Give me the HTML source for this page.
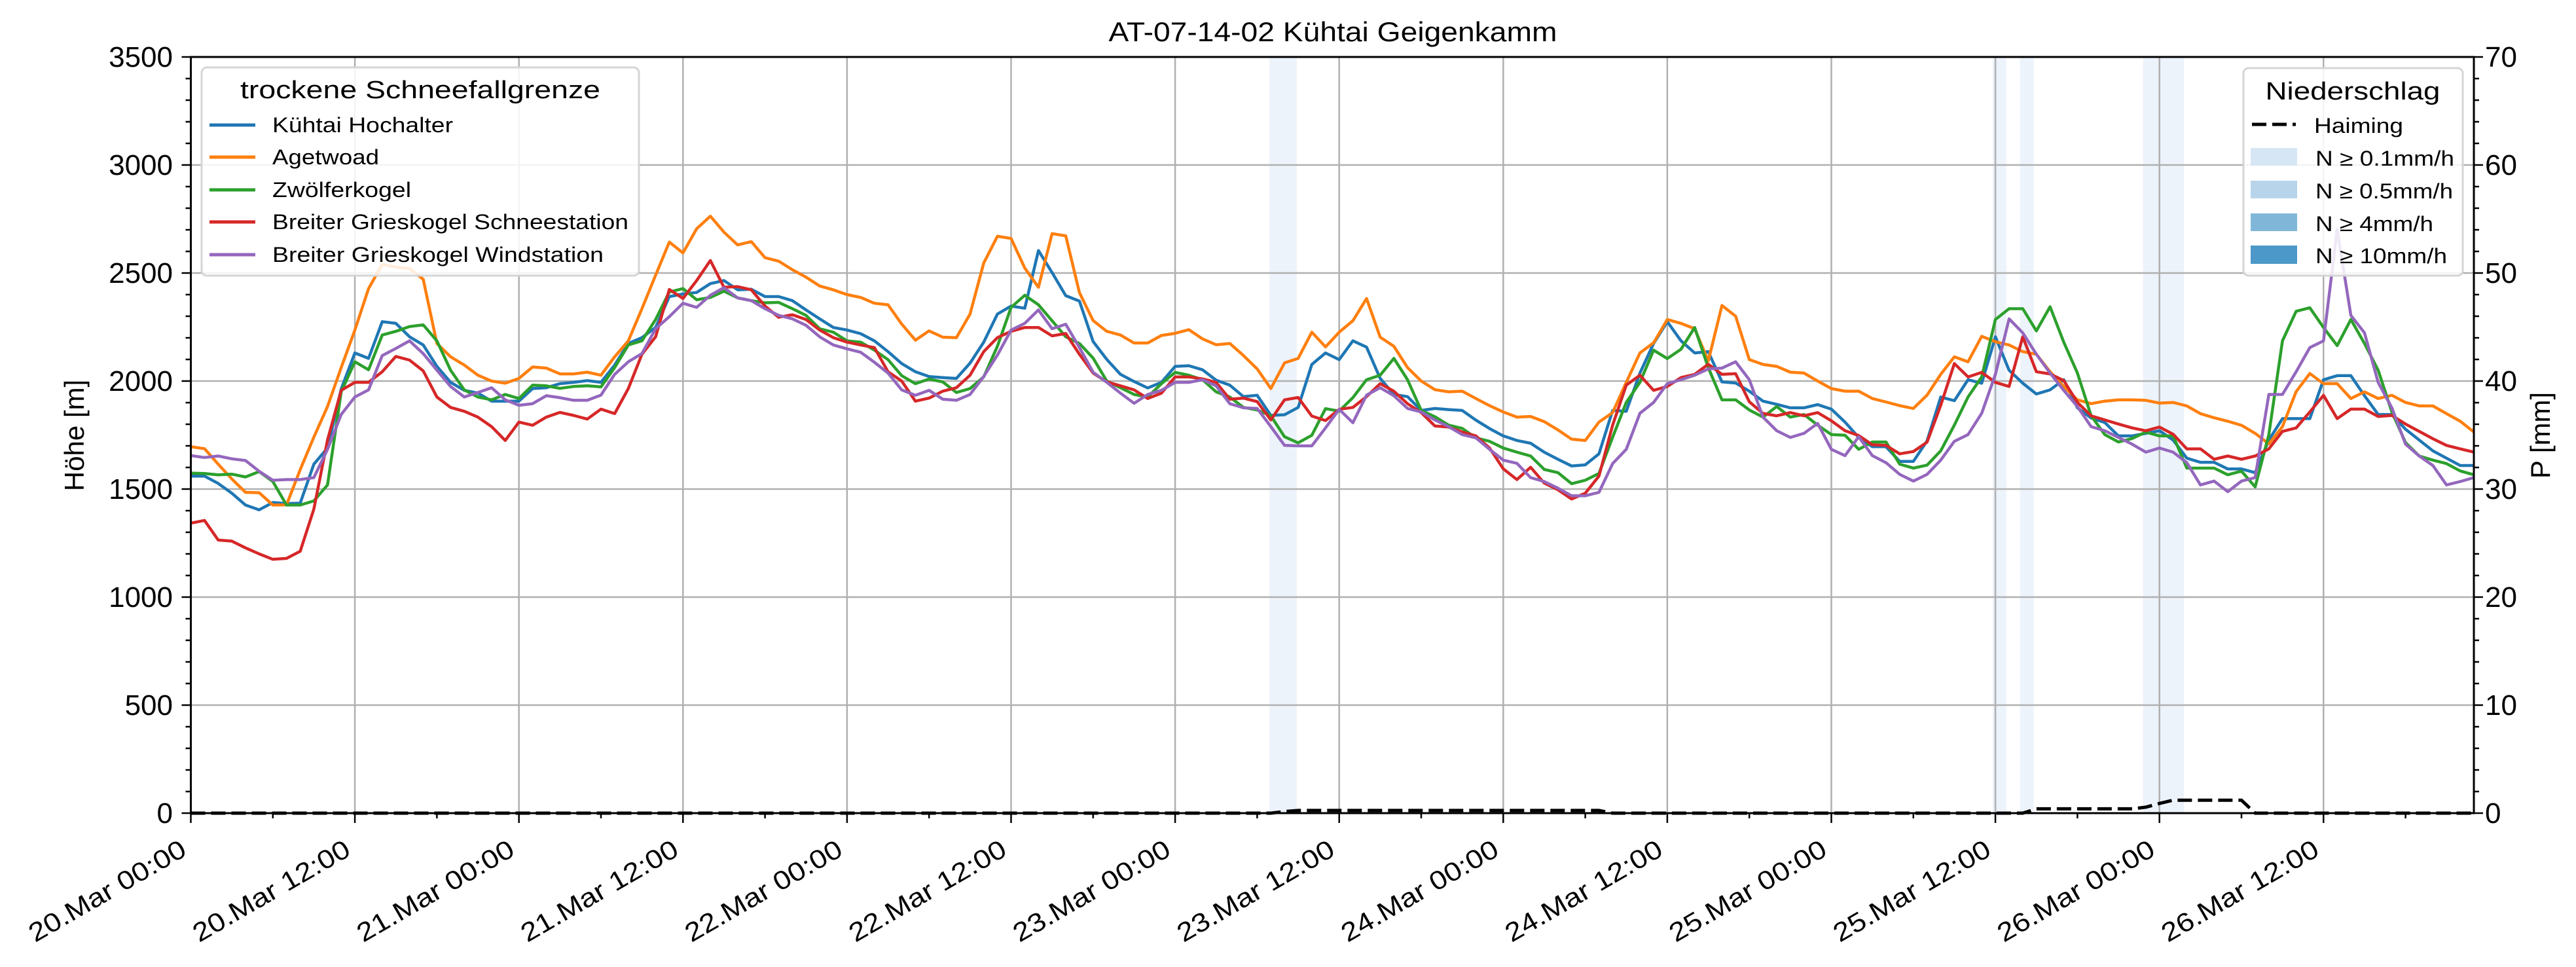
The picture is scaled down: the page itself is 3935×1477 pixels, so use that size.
<!DOCTYPE html>
<html><head><meta charset="utf-8"><style>
html,body{margin:0;padding:0;background:#fff;}
svg{display:block;font-family:"Liberation Sans","DejaVu Sans",sans-serif;}
</style></head><body>
<svg id="chart" width="3935" height="1477" viewBox="0 0 3935 1477" xmlns="http://www.w3.org/2000/svg">
<rect width="3935" height="1477" fill="#fff"/>
<g id="bands"></g>
<g id="grid"></g>
<g id="series"></g>
<g id="axes"></g>
<text x="2036" y="63" font-size="42" text-anchor="middle" textLength="685" lengthAdjust="spacingAndGlyphs">AT-07-14-02 Kühtai Geigenkamm</text>
<text transform="translate(128,665) rotate(-90)" font-size="42" text-anchor="middle">Höhe [m]</text>
<text transform="translate(3895,665) rotate(-90)" font-size="42" text-anchor="middle">P [mm]</text>
<g>
<rect x="308" y="103" width="668" height="318" rx="8" fill="#fff" fill-opacity="0.85" stroke="#d5d5d5" stroke-width="3"/>
<text x="642" y="150" font-size="38" text-anchor="middle" textLength="550" lengthAdjust="spacingAndGlyphs">trockene Schneefallgrenze</text>
<g><line x1="320" y1="191" x2="390" y2="191" stroke="#1f77b4" stroke-width="5"/><text x="416" y="202" font-size="32" textLength="276" lengthAdjust="spacingAndGlyphs">Kühtai Hochalter</text></g>
<g><line x1="320" y1="240" x2="390" y2="240" stroke="#ff7f0e" stroke-width="5"/><text x="416" y="251" font-size="32" textLength="163" lengthAdjust="spacingAndGlyphs">Agetwoad</text></g>
<g><line x1="320" y1="290" x2="390" y2="290" stroke="#2ca02c" stroke-width="5"/><text x="416" y="301" font-size="32" textLength="212" lengthAdjust="spacingAndGlyphs">Zwölferkogel</text></g>
<g><line x1="320" y1="339" x2="390" y2="339" stroke="#d62728" stroke-width="5"/><text x="416" y="350" font-size="32" textLength="544" lengthAdjust="spacingAndGlyphs">Breiter Grieskogel Schneestation</text></g>
<g><line x1="320" y1="389" x2="390" y2="389" stroke="#9467bd" stroke-width="5"/><text x="416" y="400" font-size="32" textLength="506" lengthAdjust="spacingAndGlyphs">Breiter Grieskogel Windstation</text></g>
</g>
<g>
<rect x="3427" y="104" width="335" height="317" rx="8" fill="#fff" fill-opacity="0.85" stroke="#d5d5d5" stroke-width="3"/>
<text x="3594" y="152" font-size="38" text-anchor="middle" textLength="267" lengthAdjust="spacingAndGlyphs">Niederschlag</text>
<g><line x1="3440" y1="190" x2="3507" y2="190" stroke="#000" stroke-width="5" stroke-dasharray="22,9"/><text x="3535" y="203" font-size="32" textLength="136" lengthAdjust="spacingAndGlyphs">Haiming</text></g>
<g><rect x="3438" y="226" width="71" height="27" fill="#d6e6f4"/><text x="3537" y="253" font-size="32" textLength="212" lengthAdjust="spacingAndGlyphs">N ≥ 0.1mm/h</text></g>
<g><rect x="3438" y="276" width="71" height="27" fill="#b8d4ea"/><text x="3537" y="303" font-size="32" textLength="210" lengthAdjust="spacingAndGlyphs">N ≥ 0.5mm/h</text></g>
<g><rect x="3438" y="326" width="71" height="27" fill="#80b7d8"/><text x="3537" y="353" font-size="32" textLength="180" lengthAdjust="spacingAndGlyphs">N ≥ 4mm/h</text></g>
<g><rect x="3438" y="375" width="71" height="28" fill="#4b98c9"/><text x="3537" y="402" font-size="32" textLength="201" lengthAdjust="spacingAndGlyphs">N ≥ 10mm/h</text></g>
</g>
</svg>
<script>
const hochalter=[1560,1560,1526,1481,1426,1404,1438,1433,1435,1615,1690,1963,2130,2105,2275,2267,2205,2167,2068,1994,1957,1944,1907,1907,1907,
1965,1969,1988,1994,2002,1994,2074,2174,2201,2248,2391,2403,2410,2451,2465,2422,2425,2391,2391,2372,2329,2288,2248,2236,
2219,2186,2136,2081,2043,2021,2016,2012,2083,2180,2310,2347,2337,2604,2502,2395,2370,2183,2100,2031,1998,1968,1994,2068,
2071,2052,2004,1981,1928,1934,1841,1844,1878,2077,2130,2099,2186,2157,2012,1938,1928,1864,1873,1868,1864,1819,1780,1746,
1725,1712,1671,1638,1607,1612,1663,1864,1860,2037,2174,2275,2186,2130,2136,1996,1991,1953,1907,1892,1876,1876,1891,1870,
1810,1739,1696,1696,1628,1628,1723,1926,1909,2006,1990,2205,2050,1990,1940,1959,2006,1876,1829,1808,1746,1746,1758,1770,
1727,1643,1624,1624,1593,1593,1576,1727,1826,1826,1826,2006,2025,2025,1932,1845,1845,1777,1727,1677,1643,1609,1609];
const agetwoad=[1696,1687,1615,1547,1485,1483,1426,1427,1590,1740,1882,2062,2236,2428,2540,2527,2521,2471,2174,2112,2074,2027,2000,1990,2012,
2065,2060,2033,2033,2041,2027,2112,2186,2335,2490,2643,2593,2705,2763,2689,2630,2645,2571,2555,2515,2481,2440,2422,2400,
2387,2360,2353,2264,2189,2232,2203,2201,2310,2546,2670,2660,2523,2434,2682,2672,2409,2280,2230,2213,2176,2176,2211,2221,
2238,2195,2168,2174,2118,2056,1965,2084,2105,2226,2158,2226,2279,2382,2203,2161,2062,2000,1960,1950,1953,1919,1886,1857,
1833,1836,1812,1774,1731,1725,1810,1854,1994,2130,2177,2285,2267,2242,2093,2350,2300,2099,2077,2068,2041,2037,2000,1965,
1953,1953,1919,1903,1886,1873,1935,2031,2112,2089,2207,2182,2167,2136,2124,2043,1975,1913,1895,1907,1913,1913,1911,1898,
1901,1885,1849,1830,1814,1795,1758,1709,1789,1951,2035,1988,1988,1919,1950,1919,1934,1901,1885,1885,1849,1814,1764];
const zwoelfer=[1574,1572,1566,1569,1556,1581,1535,1426,1426,1445,1519,1950,2089,2052,2213,2230,2252,2260,2186,2050,1959,1926,1913,1938,1919,
1981,1978,1966,1975,1978,1973,2062,2167,2186,2285,2412,2428,2376,2387,2416,2385,2372,2362,2364,2335,2304,2242,2226,2186,
2180,2143,2099,2025,1988,2009,1996,1947,1965,2019,2161,2341,2397,2353,2279,2205,2174,2106,2000,1969,1938,1926,1988,2040,
2027,2006,1950,1926,1878,1866,1839,1742,1714,1749,1872,1861,1923,2006,2027,2105,2006,1864,1835,1796,1781,1737,1721,1690,
1671,1653,1591,1576,1525,1541,1572,1740,1901,1994,2143,2104,2147,2248,2062,1913,1913,1866,1833,1882,1833,1845,1796,1752,
1749,1684,1718,1718,1615,1597,1611,1677,1796,1926,2019,2285,2335,2335,2232,2344,2180,2037,1839,1752,1718,1734,1764,1746,
1746,1597,1597,1597,1566,1583,1510,1752,2186,2323,2339,2248,2164,2285,2174,2050,1857,1715,1653,1634,1618,1584,1566];
const schneestation=[1342,1355,1264,1259,1228,1200,1175,1179,1212,1407,1727,1957,1994,1994,2043,2114,2097,2047,1926,1878,1860,1833,1789,1725,1810,
1795,1833,1855,1841,1824,1870,1849,1965,2124,2205,2424,2382,2465,2558,2434,2437,2422,2347,2295,2307,2285,2236,2201,2180,
2167,2155,2043,2000,1907,1921,1953,1969,2027,2136,2201,2230,2248,2248,2209,2220,2124,2037,1996,1978,1959,1919,1944,2019,
2019,2010,1994,1916,1921,1905,1820,1913,1924,1838,1817,1869,1878,1928,1988,1953,1895,1854,1792,1787,1764,1746,1690,1594,
1544,1601,1528,1497,1454,1481,1560,1796,1981,2027,1957,1975,2016,2031,2078,2031,2034,1904,1850,1839,1854,1839,1854,1816,
1770,1748,1705,1702,1663,1674,1717,1888,2081,2019,2040,1994,1975,2205,2043,2033,2002,1901,1839,1820,1801,1783,1770,1787,
1754,1686,1686,1638,1653,1638,1653,1686,1767,1783,1857,1934,1826,1870,1870,1836,1841,1801,1767,1733,1702,1686,1671];
const windstation=[1655,1646,1653,1640,1632,1582,1541,1544,1544,1553,1684,1845,1926,1959,2118,2151,2186,2127,2050,1975,1926,1947,1969,1913,1888,
1895,1932,1923,1911,1911,1935,2031,2089,2127,2242,2298,2360,2341,2397,2432,2385,2372,2335,2304,2288,2258,2205,2167,2149,
2133,2087,2037,1959,1934,1957,1916,1911,1938,2021,2120,2236,2267,2329,2242,2263,2155,2041,1994,1944,1897,1938,1957,1994,
1994,2006,1978,1895,1876,1873,1789,1702,1700,1700,1783,1869,1807,1935,1969,1932,1873,1857,1820,1789,1752,1737,1684,1634,
1619,1553,1535,1504,1469,1469,1485,1618,1684,1851,1901,1988,2006,2027,2056,2060,2089,2006,1833,1770,1739,1758,1804,1684,
1655,1742,1655,1622,1568,1537,1568,1634,1721,1752,1851,2031,2288,2223,2124,2037,1957,1882,1789,1770,1739,1708,1671,1690,
1671,1622,1519,1537,1488,1537,1553,1938,1938,2043,2155,2186,2701,2304,2223,1994,1876,1708,1653,1609,1519,1535,1553];
const precipHours=[0,79,80,81,103,104,134,135,142,143,144,145,150,151,167];
const precipValues=[0,0,0.15,0.25,0.25,0,0,0.4,0.4,0.55,0.9,1.2,1.2,0,0];
const bandStart=[78.9,131.8,133.8,142.8];
const bandEnd=[80.9,132.8,134.8,145.8];
const xTickLabels=["20.Mar 00:00","20.Mar 12:00","21.Mar 00:00","21.Mar 12:00","22.Mar 00:00","22.Mar 12:00","23.Mar 00:00","23.Mar 12:00","24.Mar 00:00","24.Mar 12:00","25.Mar 00:00","25.Mar 12:00","26.Mar 00:00","26.Mar 12:00"];
const yTicks=[0,500,1000,1500,2000,2500,3000,3500];
const y2Ticks=[0,10,20,30,40,50,60,70];

const NS="http://www.w3.org/2000/svg";
const L=291.5,R=3779,T=87,B=1242,HMAX=167;
const x=h=>L+h*(R-L)/HMAX;
const y=v=>B-v*(B-T)/3500;
const y2=p=>B-p*(B-T)/70;
function mk(tag,attrs,parent){const e=document.createElementNS(NS,tag);for(const k in attrs)e.setAttribute(k,attrs[k]);parent.appendChild(e);return e;}
const gB=document.getElementById('bands'),gG=document.getElementById('grid'),gS=document.getElementById('series'),gA=document.getElementById('axes');

for(let i=0;i<bandStart.length;i++){
  const r=mk('rect',{x:x(bandStart[i]),y:T,width:x(bandEnd[i])-x(bandStart[i]),height:B-T,fill:'#edf3fa'},gB);
  
  
}
for(let i=0;i<xTickLabels.length;i++){
  const gl=mk('line',{x1:x(i*12),x2:x(i*12),y1:T,y2:B,stroke:'#b0b0b0','stroke-width':2.5},gG);
  
  
}
yTicks.forEach(v=>{
  const gl=mk('line',{x1:L,x2:R,y1:y(v),y2:y(v),stroke:'#b0b0b0','stroke-width':2.5},gG);
  
  
});

const series=[[hochalter,'#1f77b4','line-kuehtai-hochalter'],[agetwoad,'#ff7f0e','line-agetwoad'],[zwoelfer,'#2ca02c','line-zwoelferkogel'],[schneestation,'#d62728','line-schneestation'],[windstation,'#9467bd','line-windstation']];
series.forEach(s=>{
  const pts=s[0].map((v,i)=>x(i).toFixed(1)+','+y(v).toFixed(1)).join(' ');
  const p=mk('polyline',{points:pts,fill:'none',stroke:s[1],'stroke-width':4.5,'stroke-linejoin':'round'},gS);
  
  
});
const ppts=precipHours.map((h,i)=>x(h).toFixed(1)+','+y2(precipValues[i]).toFixed(1)).join(' ');
const pl=mk('polyline',{points:ppts,fill:'none',stroke:'#000','stroke-width':5,'stroke-dasharray':'22,9'},gS);



const fr=mk('rect',{x:L,y:T,width:R-L,height:B-T,fill:'none',stroke:'#000','stroke-width':3},gA);


for(let h=0;h<=HMAX;h+=6){
  const major=h%12===0;
  const t=mk('line',{x1:x(h),x2:x(h),y1:B,y2:B+(major?15:8),stroke:'#000','stroke-width':2.5},gA);
  
  
}
xTickLabels.forEach((lab,i)=>{
  const px=x(i*12)-4,py=1305;
  const t=mk('text',{x:px,y:py,'font-size':40,'text-anchor':'end',textLength:270,lengthAdjust:'spacingAndGlyphs',transform:'rotate(-30 '+px+' '+py+')'},gA);
  t.textContent=lab;
  
  
});
for(let v=0;v<=3500;v+=100){
  const major=v%500===0;
  const t=mk('line',{x1:L,x2:L-(major?14:8),y1:y(v),y2:y(v),stroke:'#000','stroke-width':2.5},gA);
  
  
}
yTicks.forEach(v=>{
  const t=mk('text',{x:264,y:y(v)+15,'font-size':44,'text-anchor':'end'},gA);
  t.textContent=String(v);
  
  
});
for(let p=0;p<=70;p+=2){
  const major=p%10===0;
  const t=mk('line',{x1:R,x2:R+(major?14:8),y1:y2(p),y2:y2(p),stroke:'#000','stroke-width':2.5},gA);
  
  
}
y2Ticks.forEach(p=>{
  const t=mk('text',{x:3796,y:y2(p)+15,'font-size':44,'text-anchor':'start'},gA);
  t.textContent=String(p);
  
  
});
</script>
</body></html>
